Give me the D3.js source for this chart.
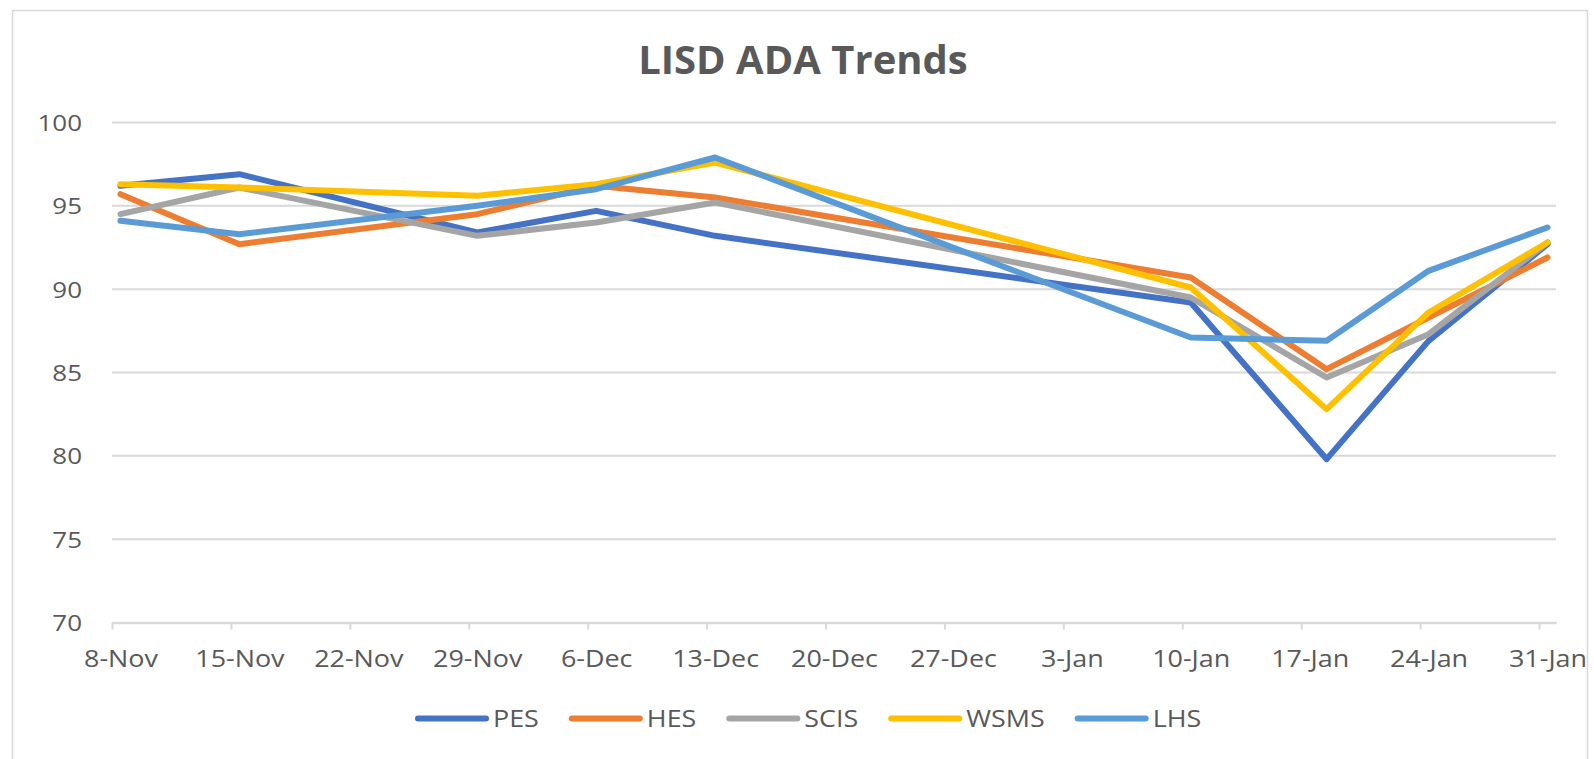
<!DOCTYPE html>
<html>
<head>
<meta charset="utf-8">
<script src="https://cdn.jsdelivr.net/npm/d3@7"></script>
<style>
  html, body { margin: 0; padding: 0; background: #ffffff; }
  svg { display: block; }
  text { font-family: "Open Sans", "Noto Sans", sans-serif; fill: #595959; }
</style>
</head>
<body>
<svg id="chart" width="1594" height="759"></svg>
<script>
// Weekly attendance (ADA) per campus
const weeks = ["2021-11-08","2021-11-15","2021-11-29","2021-12-06","2021-12-13",
               "2022-01-10","2022-01-18","2022-01-24","2022-01-31"];
const PES  = [96.2, 96.9, 93.4, 94.7, 93.2, 89.2, 79.8, 86.9, 92.7];
const HES  = [95.7, 92.7, 94.5, 96.2, 95.5, 90.7, 85.2, 88.3, 91.9];
const SCIS = [94.5, 96.1, 93.2, 94.0, 95.2, 89.5, 84.7, 87.3, 92.8];
const WSMS = [96.3, 96.1, 95.6, 96.3, 97.6, 90.1, 82.8, 88.6, 92.8];
const LHS  = [94.1, 93.3, 95.0, 96.0, 97.9, 87.1, 86.9, 91.1, 93.7];

const seriesNames = ["PES", "HES", "SCIS", "WSMS", "LHS"];
const seriesValues = [PES, HES, SCIS, WSMS, LHS];
const colors = ["#4472C4", "#ED7D31", "#A5A5A5", "#FFC000", "#5B9BD5"];
const yTicks = [70, 75, 80, 85, 90, 95, 100];
const axisStart = "2021-11-08", axisEnd = "2022-02-01";
const chartTitle = "LISD ADA Trends";

const parse = d3.utcParse("%Y-%m-%d");
const fmt = d3.utcFormat("%-d-%b");

const svg = d3.select("#chart");
const plot = { left: 112, right: 1556, top: 122.5, bottom: 622.5 };

// chart area border
svg.append("rect")
  .attr("x", 12.5).attr("y", 10.5).attr("width", 1575).attr("height", 800)
  .attr("fill", "none").attr("stroke", "#d9d9d9").attr("stroke-width", 1.5);

const x = d3.scaleUtc()
  .domain([parse(axisStart), parse(axisEnd)])
  .range([plot.left, plot.right]);
const y = d3.scaleLinear().domain([70, 100]).range([plot.bottom, plot.top]);

// points sit in the middle of their day slot
const xMid = d => x(d3.utcHour.offset(d, 12));

// title
svg.append("text")
  .attr("x", 803).attr("y", 74)
  .attr("text-anchor", "middle")
  .style("font-weight", "700").style("font-size", "40px")
  .text(chartTitle);

// horizontal gridlines
svg.append("g").selectAll("line")
  .data(yTicks.filter(v => v > 70))
  .join("line")
  .attr("x1", plot.left).attr("x2", plot.right)
  .attr("y1", d => y(d)).attr("y2", d => y(d))
  .attr("stroke", "#d9d9d9").attr("stroke-width", 2);

// y axis labels
const yAxis = svg.append("g")
  .attr("transform", `translate(${plot.left},0)`)
  .call(d3.axisLeft(y).tickValues(yTicks).tickSize(0).tickPadding(0));
yAxis.select(".domain").remove();
yAxis.selectAll("text")
  .attr("x", 0).attr("dy", "0.36em")
  .attr("transform", "translate(-30,0) scale(1.18,1)")
  .style("font-size", "22px")
  .style("font-family", "'Open Sans', sans-serif")
  .attr("fill", "#595959");

// x axis (date axis, weekly ticks, labels centred in the day slot)
const weekTicks = d3.utcDay.range(parse(axisStart), parse(axisEnd), 7);
const xAxis = svg.append("g")
  .attr("transform", `translate(0,${plot.bottom})`)
  .call(d3.axisBottom(x).tickValues(weekTicks).tickSize(7).tickSizeOuter(0).tickFormat(fmt));
xAxis.select(".domain").attr("stroke", "#d9d9d9").attr("stroke-width", 2.5);
xAxis.selectAll(".tick line").attr("stroke", "#d9d9d9").attr("stroke-width", 2);
xAxis.selectAll("text")
  .attr("y", 0).attr("dy", 0)
  .attr("transform", d => `translate(${xMid(d) - x(d)},44) scale(1.17,1)`)
  .style("font-size", "23px")
  .style("font-family", "'Open Sans', sans-serif")
  .attr("fill", "#595959");

// series lines
const line = d3.line()
  .x((v, i) => xMid(parse(weeks[i])))
  .y(v => y(v));

svg.append("g").selectAll("path")
  .data(seriesValues)
  .join("path")
  .attr("d", d => line(d))
  .attr("fill", "none")
  .attr("stroke", (d, i) => colors[i])
  .attr("stroke-width", 6)
  .attr("stroke-linejoin", "round")
  .attr("stroke-linecap", "round");

// legend
const legend = svg.append("g");
let lx = 415;
const ly = 718.5;
seriesNames.forEach((name, i) => {
  legend.append("line")
    .attr("x1", lx + 3).attr("x2", lx + 71)
    .attr("y1", ly).attr("y2", ly)
    .attr("stroke", colors[i]).attr("stroke-width", 6)
    .attr("stroke-linecap", "round");
  const t = legend.append("text")
    .attr("transform", `translate(${lx + 78},${ly + 8.5}) scale(1.12,1)`)
    .style("font-size", "24px")
    .text(name);
  const w = t.node().getComputedTextLength() * 1.12;
  lx += 78 + w + 30;
});
</script>
</body>
</html>
